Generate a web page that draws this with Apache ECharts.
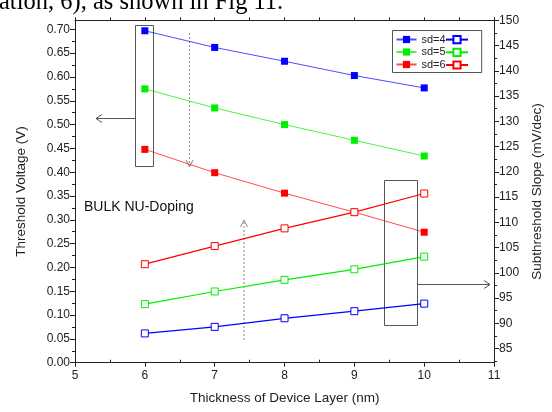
<!DOCTYPE html>
<html><head><meta charset="utf-8">
<script src="https://cdn.jsdelivr.net/npm/echarts@6/dist/echarts.min.js"></script>
<style>html,body{margin:0;padding:0;background:#fff}#c{width:552px;height:412px}</style>
</head><body><div id="c"></div>
<script>
// ---- data ----
const thickness = [6, 7, 8, 9, 10];
const vthSd4 = [0.697, 0.662, 0.633, 0.603, 0.577];
const vthSd5 = [0.575, 0.535, 0.500, 0.467, 0.434];
const vthSd6 = [0.448, 0.399, 0.356, 0.316, 0.274];
const ssSd4 = [88.0, 89.3, 91.0, 92.4, 93.9];
const ssSd5 = [93.8, 96.3, 98.6, 100.7, 103.2];
const ssSd6 = [101.7, 105.3, 108.8, 112.0, 115.7];
const seriesNames = ['sd=4', 'sd=5', 'sd=6'];
const leftTicks = [0, 0.05, 0.10, 0.15, 0.20, 0.25, 0.30, 0.35, 0.40, 0.45, 0.50, 0.55, 0.60, 0.65, 0.70];
const leftMinor = [0.025, 0.075, 0.125, 0.175, 0.225, 0.275, 0.325, 0.375, 0.425, 0.475, 0.525, 0.575, 0.625, 0.675];
const rightTicks = [85, 90, 95, 100, 105, 110, 115, 120, 125, 130, 135, 140, 145, 150];
const rightMinor = [82.5, 87.5, 92.5, 97.5, 102.5, 107.5, 112.5, 117.5, 122.5, 127.5, 132.5, 137.5, 142.5, 147.5];
const xMinor = [5.5, 6.5, 7.5, 8.5, 9.5, 10.5];

// ---- chart ----
const FONT = '"Liberation Sans", Arial, sans-serif';
const AX = '#222';
const colors = ['#0000ff', '#00ee00', '#ff0000'];
const vth = [vthSd4, vthSd5, vthSd6];
const ss = [ssSd4, ssSd5, ssSd6];
const chart = echarts.init(document.getElementById('c'), null, {renderer: 'canvas'});

const series = [];
vth.forEach((arr, k) => series.push({
  type: 'line', name: seriesNames[k], xAxisIndex: 0, yAxisIndex: 0,
  data: thickness.map((x, i) => [x, arr[i]]),
  symbol: 'rect', symbolSize: 7,
  lineStyle: {color: colors[k], width: 1, opacity: 0.7},
  itemStyle: {color: colors[k]}
}));
ss.forEach((arr, k) => series.push({
  type: 'line', name: seriesNames[k] + ' SS', xAxisIndex: 0, yAxisIndex: 1,
  data: thickness.map((x, i) => [x, arr[i]]),
  symbol: 'rect', symbolSize: 7,
  lineStyle: {color: colors[k], width: 1.25},
  itemStyle: {color: '#fff', borderColor: colors[k], borderWidth: 1, opacity: 1}
}));

const lbl = {fontFamily: FONT, fontSize: 12, color: AX};
const nameStyle = {fontFamily: FONT, fontSize: 13.5, color: AX};
const lineS = {lineStyle: {color: AX, width: 1}};

const option = {
  animation: false,
  backgroundColor: '#fff',
  grid: {left: 75, right: 53.5, top: 20.3, bottom: 49.3, containLabel: false},
  legend: [{
    data: seriesNames, orient: 'vertical', left: 392.5, top: 30.5,
    itemWidth: 20, itemHeight: 9, itemGap: 0.5,
    padding: [3, 36, 2, 3], borderColor: '#555', borderWidth: 1,
    textStyle: {fontFamily: FONT, fontSize: 11, color: AX, lineHeight: 12},
    selectedMode: false
  }, {
    data: seriesNames.map(n => n + ' SS'), orient: 'vertical', left: 445, top: 35,
    itemWidth: 22, itemHeight: 9, itemGap: 3.5, padding: 0,
    formatter: () => '',
    textStyle: {fontFamily: FONT, fontSize: 11, lineHeight: 9},
    selectedMode: false
  }],
  xAxis: [{
    type: 'value', position: 'bottom', min: 5, max: 11, interval: 1,
    axisLine: lineS, axisTick: {length: 4, inside: false, lineStyle: {color: AX}},
    axisLabel: Object.assign({margin: 7}, lbl), splitLine: {show: false},
    name: 'Thickness of Device Layer (nm)', nameLocation: 'middle', nameGap: 29, nameTextStyle: nameStyle
  }, {
    type: 'value', position: 'bottom', min: 5, max: 11,
    axisLine: {show: false}, axisTick: {inside: true, length: 3, customValues: xMinor, lineStyle: {color: AX}},
    axisLabel: {show: false}, splitLine: {show: false}
  }, {
    type: 'value', position: 'top', min: 5, max: 11, interval: 0.5,
    axisLine: lineS, axisTick: {inside: false, length: 3, lineStyle: {color: AX}},
    axisLabel: {show: false}, splitLine: {show: false}
  }],
  yAxis: [{
    type: 'value', position: 'left', min: 0, max: 0.719,
    axisLine: lineS, axisTick: {customValues: leftTicks, length: 5, lineStyle: {color: AX}},
    axisLabel: Object.assign({customValues: leftTicks, margin: 5, formatter: v => v.toFixed(2)}, lbl),
    splitLine: {show: false},
    name: 'Threshold Voltage (V)', nameLocation: 'middle', nameGap: 47, nameTextStyle: nameStyle
  }, {
    type: 'value', position: 'right', min: 82.2, max: 150,
    axisLine: lineS, axisTick: {customValues: rightTicks, length: 5, lineStyle: {color: AX}},
    axisLabel: Object.assign({customValues: rightTicks, margin: 5}, lbl),
    splitLine: {show: false},
    name: 'Subthreshold Slope (mV/dec)', nameLocation: 'middle', nameGap: 34, nameTextStyle: nameStyle
  }, {
    type: 'value', position: 'left', min: 0, max: 0.719,
    axisLine: {show: false}, axisTick: {customValues: leftMinor, length: 3, lineStyle: {color: AX}},
    axisLabel: {show: false}, splitLine: {show: false}
  }, {
    type: 'value', position: 'right', min: 82.2, max: 150,
    axisLine: {show: false}, axisTick: {customValues: rightMinor, length: 3, lineStyle: {color: AX}},
    axisLabel: {show: false}, splitLine: {show: false}
  }],
  series: series,
  graphic: [
    {type: 'text', x: -1, y: 15.5, style: {text: 'ation, 6), as shown in Fig 11.', fontFamily: '"Liberation Serif", "Times New Roman", serif', fontSize: 24.5, fill: '#000', verticalAlign: 'bottom'}},
    {type: 'text', x: 84, y: 207, style: {text: 'BULK NU-Doping', fontFamily: FONT, fontSize: 14, fill: '#111', verticalAlign: 'middle'}},
    {type: 'rect', shape: {x: 135.5, y: 25.5, width: 18, height: 141}, style: {fill: 'none', stroke: '#555', lineWidth: 1}, z: 1},
    {type: 'rect', shape: {x: 384.5, y: 180.5, width: 33, height: 145}, style: {fill: 'none', stroke: '#555', lineWidth: 1}, z: 1},
    {type: 'line', shape: {x1: 135, y1: 118.5, x2: 96, y2: 118.5}, style: {stroke: '#555', lineWidth: 1}},
    {type: 'polyline', shape: {points: [[102, 114.5], [96, 118.5], [102, 122.5]]}, style: {fill: 'none', stroke: '#555', lineWidth: 1}},
    {type: 'line', shape: {x1: 418, y1: 284.5, x2: 490, y2: 284.5}, style: {stroke: '#555', lineWidth: 1}},
    {type: 'polyline', shape: {points: [[484, 280.5], [490, 284.5], [484, 288.5]]}, style: {fill: 'none', stroke: '#555', lineWidth: 1}},
    {type: 'line', shape: {x1: 189.5, y1: 33, x2: 189.5, y2: 166}, style: {stroke: '#999', lineWidth: 1.2, lineDash: [2, 2]}},
    {type: 'polyline', shape: {points: [[186, 160], [189.5, 167], [193, 160]]}, style: {fill: 'none', stroke: '#888', lineWidth: 1}},
    {type: 'line', shape: {x1: 244, y1: 340, x2: 244, y2: 221}, style: {stroke: '#999', lineWidth: 1.2, lineDash: [2, 2]}},
    {type: 'polyline', shape: {points: [[240.5, 227], [244, 220], [247.5, 227]]}, style: {fill: 'none', stroke: '#888', lineWidth: 1}}
  ]
};
chart.setOption(option);
</script>
</body></html>
